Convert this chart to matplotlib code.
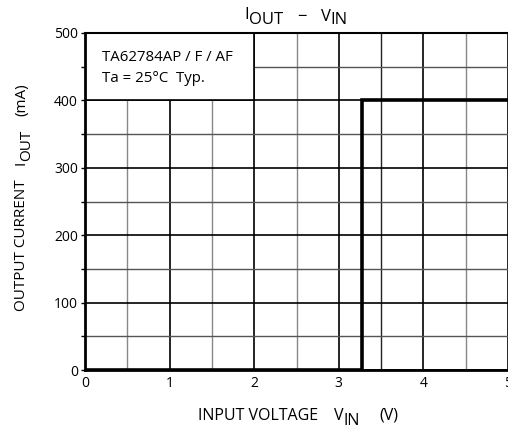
import matplotlib.pyplot as plt
from matplotlib.patches import Rectangle
from matplotlib.transforms import IdentityTransform

# step response of output current vs input voltage
vin = [0.0, 3.27, 3.27, 5.0]
iout = [0, 0, 400, 400]

x_ticks = [0, 1, 2, 3, 4, 5]
x_minor = [0.5, 1.5, 2.5, 3.5, 4.5]
y_ticks = [0, 100, 200, 300, 400, 500]
y_minor = [50, 150, 250, 350, 450]

plt.rcParams['font.family'] = ['Open Sans', 'DejaVu Sans']

fig = plt.figure(figsize=(5.08, 4.30), dpi=100)
ax = fig.add_axes([85 / 508, 1 - 370 / 430, 423 / 508, 337 / 430])


def compose(center, base, pieces, size, rot=0):
    """Write text pieces one after another (in pixels), with raised/lowered
    parts for the subscripts, centred on `center` along the text direction."""
    renderer = fig.canvas.get_renderer()
    texts = []
    adv = 0
    for item in pieces:
        if not isinstance(item, tuple):
            adv += item
            continue
        s, dy = item
        t = fig.text(0, 0, s, transform=IdentityTransform(), fontsize=size,
                     ha='left', va='baseline', rotation=rot,
                     rotation_mode='anchor')
        bb = t.get_window_extent(renderer)
        texts.append((t, adv, dy))
        adv += bb.width if rot == 0 else bb.height
    start = center - adv / 2
    for t, a, dy in texts:
        if rot == 0:
            t.set_position((start + a, base + dy))
        else:
            t.set_position((base - dy, start + a))


ax.set_xlim(0, 5)
ax.set_ylim(0, 500)
ax.set_xticks(x_ticks)
ax.set_xticks(x_minor, minor=True)
ax.set_yticks(y_ticks)
ax.set_yticks(y_minor, minor=True)

# grid
for x in x_ticks:
    ax.axvline(x, color='black', lw=1.2, zorder=1)
for x in x_minor:
    c = '#222222' if x == 3.5 else '#888888'
    ax.axvline(x, color=c, lw=1.0, zorder=1)
for y in y_ticks:
    ax.axhline(y, color='black', lw=1.2, zorder=1)
for y in y_minor:
    ax.axhline(y, color='#555555', lw=1.0, zorder=1)

# white box for the annotation
ax.add_patch(Rectangle((0, 400), 2, 100, facecolor='white', edgecolor='none', zorder=2))
ax.plot([0, 2], [400, 400], color='black', lw=1.2, zorder=2.5)
ax.plot([2, 2], [400, 500], color='black', lw=1.2, zorder=2.5)

ax.plot(vin, iout, color='black', lw=2.6, zorder=3, solid_joinstyle='miter')

ax.text(0.2, 463, 'TA62784AP / F / AF', fontsize=10.8, va='center', zorder=4)
ax.text(0.2, 432, 'Ta = 25\u00b0C  Typ.', fontsize=10.8, va='center', zorder=4)

for s in ['left', 'bottom']:
    ax.spines[s].set_linewidth(2)
ax.spines['top'].set_linewidth(1.5)
ax.spines['right'].set_visible(False)

ax.tick_params(axis='y', which='both', direction='out', length=3, width=1,
               labelsize=10, pad=2)
ax.tick_params(axis='x', which='both', length=0, labelsize=10, pad=4)

# title  I_OUT - V_IN
compose(296, 430 - 24, [('I', 5), ('OUT', 0), 14, ('\u2212', 3), 14,
                        ('V', 3), ('IN', 0)], 12)
# x label
compose(298, 430 - 420, [('INPUT VOLTAGE', 0), 16, ('V', 0), ('IN', -5),
                         20, ('(V)', 0)], 11.5)
# y label
compose(430 - 197, 25, [('OUTPUT CURRENT', 0), 14, ('I', 0), ('OUT', -5),
                        14, ('(mA)', 0)], 11, rot=90)

fig.savefig('out.png', dpi=100)
